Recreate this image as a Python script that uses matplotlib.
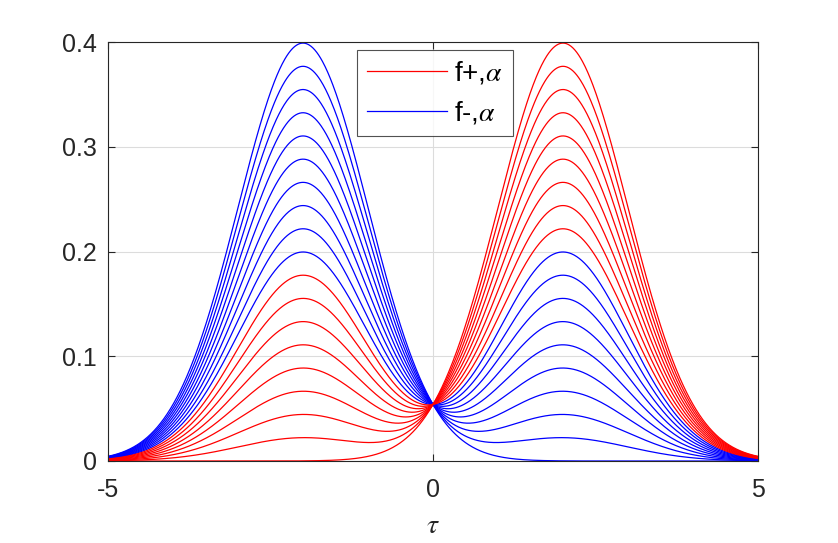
import numpy as np
import matplotlib.pyplot as plt

weights = [0/18, 1/18, 2/18, 3/18, 4/18, 5/18, 6/18, 7/18, 8/18, 9/18,
           10/18, 11/18, 12/18, 13/18, 14/18, 15/18, 16/18, 17/18, 18/18]
centre_right = 2.0
centre_left = -2.0
sigma = 1.0

x_ticks = [-5, 0, 5]
y_ticks = [0, 0.1, 0.2, 0.3, 0.4]
x_ticklabels = ['-5', '0', '5']
y_ticklabels = ['0', '0.1', '0.2', '0.3', '0.4']

plt.rcParams['font.family'] = ['Liberation Sans', 'DejaVu Sans']
plt.rcParams['mathtext.fontset'] = 'stix'

tau = np.linspace(-5, 5, 1001)


def gauss(t, mu, s):
    return np.exp(-0.5 * ((t - mu) / s) ** 2) / (s * np.sqrt(2 * np.pi))


fig = plt.figure(figsize=(8.38, 5.43), dpi=100)
ax = fig.add_axes([108 / 838, 82 / 543, 650 / 838, 419 / 543])

red_handle = None
blue_handle = None
for a in weights:
    y = a * gauss(tau, centre_right, sigma) + (1 - a) * gauss(tau, centre_left, sigma)
    if a > 0.5:
        red_handle, = ax.plot(tau, y, color='#ff0000', lw=0.9)
    else:
        blue_handle, = ax.plot(tau, y, color='#0000ff', lw=0.9)

ax.set_xlim(-5, 5)
ax.set_ylim(0, 0.4)
ax.set_xticks(x_ticks)
ax.set_xticklabels(x_ticklabels)
ax.set_yticks(y_ticks)
ax.set_yticklabels(y_ticklabels)
ax.tick_params(direction='in', labelsize=18, colors='#262626', length=5,
               top=True, right=True, labeltop=False, labelright=False)
ax.tick_params(axis='x', pad=12)
ax.tick_params(axis='y', pad=8)
ax.grid(True, color='#dcdcdc', lw=0.8)
ax.set_axisbelow(True)
for sp in ax.spines.values():
    sp.set_color('#262626')
    sp.set_linewidth(0.8)

ax.set_xlabel(r'$\tau$', fontsize=20, color='#262626', labelpad=8)

leg = ax.legend([red_handle, blue_handle], [r'f+,$\alpha$', r'f-,$\alpha$'],
                loc='upper left', bbox_to_anchor=(357 / 838, 1 - 50 / 543),
                bbox_transform=fig.transFigure, fontsize=20, frameon=True,
                fancybox=False, edgecolor='#262626', handlelength=2.9,
                handletextpad=0.25, borderpad=0.35, labelspacing=0.45,
                borderaxespad=0)
leg.get_frame().set_linewidth(0.8)

fig.savefig('out.png', dpi=100)
